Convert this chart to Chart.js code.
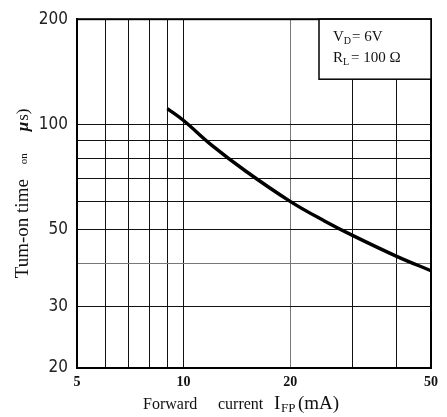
<!DOCTYPE html>
<html>
<head>
<meta charset="utf-8">
<script src="https://cdn.jsdelivr.net/npm/chart.js@4.4.1/dist/chart.umd.min.js"></script>
<style>
    html, body { margin: 0; padding: 0; background: #fff; }
    #wrap { width: 447px; height: 417px; }
</style>
</head>
<body>
<div id="wrap"><canvas id="graph"></canvas></div>
<script>
// Werte
const currentMA = [9, 10, 12, 15, 20, 25, 30, 40, 50];
const turnOnUs = [110.9, 102.5, 87.1, 73.3, 60.1, 52.8, 48.0, 41.8, 38.0];

// Achsen-Ticks
const xTicks = [5, 6, 7, 8, 9, 10, 20, 30, 40, 50];
const xLabels = [5, 10, 20, 50];
const yTicks = [20, 30, 40, 50, 60, 70, 80, 90, 100, 200];
const yLabels = [20, 30, 50, 100, 200];

const serif = "'Liberation Serif', 'Times New Roman', serif";

// Rahmen, Achsentitel und Bedingungs-Box
const frameAndText = {
    id: 'frameAndText',
    afterDraw(chart) {
        const { ctx, chartArea: { top, bottom, left, right } } = chart;
        ctx.save();

        // Rahmen
        ctx.strokeStyle = '#000';
        ctx.lineWidth = 2;
        ctx.strokeRect(left, top, right - left, bottom - top);

        // Box oben rechts
        const bx = right - 112, by = top, bw = 112, bh = 60;
        ctx.fillStyle = '#fff';
        ctx.fillRect(bx, by, bw, bh);
        ctx.lineWidth = 1.5;
        ctx.strokeRect(bx, by, bw, bh);

        ctx.fillStyle = '#111';
        ctx.textBaseline = 'alphabetic';
        ctx.textAlign = 'left';
        let x = bx + 14;
        ctx.font = '15px ' + serif;
        ctx.fillText('V', x, by + 22);
        x += ctx.measureText('V').width;
        ctx.font = '10px ' + serif;
        ctx.fillText('D', x, by + 25);
        x += ctx.measureText('D').width + 1;
        ctx.font = '15px ' + serif;
        ctx.fillText('= 6V', x, by + 22);

        x = bx + 14;
        ctx.fillText('R', x, by + 43);
        x += ctx.measureText('R').width;
        ctx.font = '10px ' + serif;
        ctx.fillText('L', x, by + 46);
        x += ctx.measureText('L').width + 2;
        ctx.font = '15px ' + serif;
        ctx.fillText('= 100 Ω', x, by + 43);

        // x-Achsentitel
        ctx.fillStyle = '#111';
        const ty = bottom + 41;
        ctx.font = '16px ' + serif;
        ctx.fillText('Forward', left + 66, ty);
        ctx.fillText('current', left + 141, ty);
        ctx.font = '19px ' + serif;
        ctx.fillText('I', left + 197, ty);
        ctx.font = '13px ' + serif;
        ctx.fillText('FP', left + 204, ty + 3);
        ctx.font = '19px ' + serif;
        ctx.fillText('(mA)', left + 221, ty);

        // y-Achsentitel (gedreht)
        ctx.translate(28, 0);
        ctx.rotate(-Math.PI / 2);
        let ry = -(top + 259);
        ctx.font = '19px ' + serif;
        ctx.fillText('Tum-on time', ry, 0);
        ry = -(top + 145);
        ctx.font = '11px ' + serif;
        ctx.fillText('on', ry, -1);
        ry = -(top + 112);
        ctx.font = 'italic bold 17px ' + serif;
        ctx.fillText('μ', ry, 0);
        ry += ctx.measureText('μ').width + 1;
        ctx.font = '17px ' + serif;
        ctx.fillText('s)', ry, 0);

        ctx.restore();
    }
};

const graph = document.getElementById('graph');
new Chart(graph, {
    type: 'line',
    data: {
        datasets: [{
            data: currentMA.map((v, i) => ({ x: v, y: turnOnUs[i] })),
            borderColor: '#000',
            borderWidth: 3.4,
            pointRadius: 0,
            tension: 0.4,
            fill: false
        }]
    },
    options: {
        responsive: true,
        maintainAspectRatio: false,
        animation: false,
        layout: {
            padding: { top: 10, right: 16, bottom: 0, left: 0 }
        },
        plugins: {
            legend: { display: false },
            tooltip: { enabled: false }
        },
        scales: {
            x: {
                type: 'logarithmic',
                min: 5,
                max: 50,
                afterBuildTicks: (scale) => { scale.ticks = xTicks.map(v => ({ value: v })); },
                afterFit: (scale) => { scale.height = 49; },
                ticks: {
                    autoSkip: false,
                    maxRotation: 0,
                    padding: 6,
                    color: '#111',
                    font: { family: serif, size: 14, weight: 'bold' },
                    callback: (value) => xLabels.includes(value) ? String(value) : ''
                },
                grid: {
                    drawTicks: false,
                    color: (c) => (c.tick && c.tick.value === 20) ? '#777' : '#111',
                    lineWidth: 1
                },
                border: { color: '#000', width: 2 }
            },
            y: {
                type: 'logarithmic',
                min: 20,
                max: 200,
                afterBuildTicks: (scale) => { scale.ticks = yTicks.map(v => ({ value: v })); },
                afterFit: (scale) => { scale.width = 77; },
                ticks: {
                    autoSkip: false,
                    padding: 9,
                    color: '#222',
                    font: { family: "'Liberation Sans Narrow', 'DejaVu Sans Condensed', 'Arial Narrow', sans-serif", size: 17 },
                    callback: (value) => yLabels.includes(value) ? String(value) : ''
                },
                grid: {
                    drawTicks: false,
                    color: (c) => (c.tick && c.tick.value === 40) ? '#777' : '#111',
                    lineWidth: 1
                },
                border: { color: '#000', width: 2 }
            }
        }
    },
    plugins: [frameAndText]
});
</script>
</body>
</html>
